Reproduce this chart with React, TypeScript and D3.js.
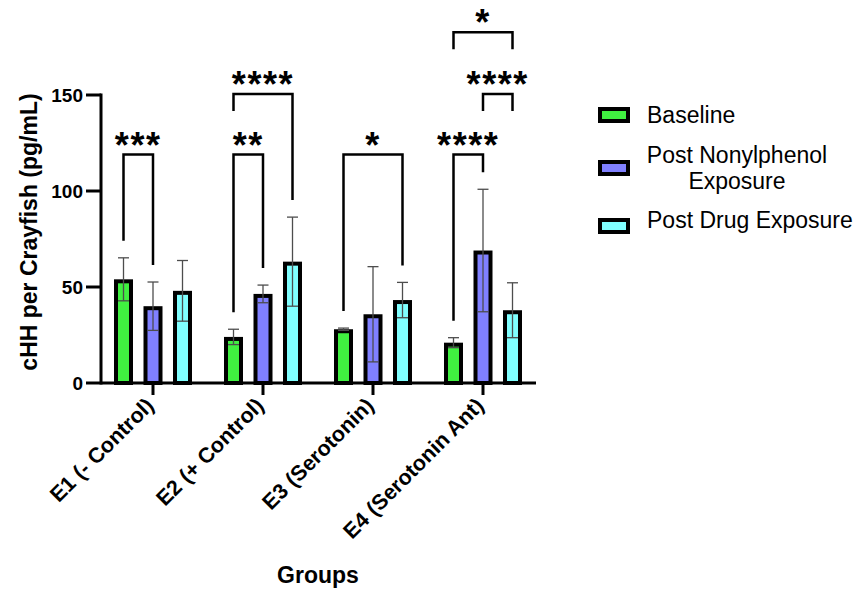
import React, { useEffect, useRef } from 'react';
import * as d3 from 'd3';

const groups = ['E1 (- Control)', 'E2 (+ Control)', 'E3 (Serotonin)', 'E4 (Serotonin Ant)'];
const seriesNames = ['Baseline', 'Post Nonylphenol Exposure', 'Post Drug Exposure'];
const seriesColors = ['#40f040', '#8080ff', '#80ffff'];

const baselineMean = [54, 24, 28, 21];
const baselineSD = [11.2, 4, 0.6, 2.6];
const nonylMean = [40, 46.4, 35.8, 69];
const nonylSD = [12.6, 4.6, 24.8, 31.9];
const drugMean = [48, 63.2, 43.2, 37.9];
const drugSD = [15.8, 23.2, 9.2, 14.3];

const yTicks = [0, 50, 100, 150];

// significance brackets: group, from series, to series, bracket level, stars, short legs
const brackets = [
  { group: 0, from: 0, to: 1, level: 119, label: '***', shortFrom: false, shortTo: false },
  { group: 1, from: 0, to: 1, level: 119, label: '**', shortFrom: false, shortTo: false },
  { group: 1, from: 0, to: 2, level: 150.5, label: '****', shortFrom: true, shortTo: false },
  { group: 2, from: 0, to: 2, level: 119, label: '*', shortFrom: false, shortTo: false },
  { group: 3, from: 0, to: 1, level: 119, label: '****', shortFrom: false, shortTo: false },
  { group: 3, from: 1, to: 2, level: 150.5, label: '****', shortFrom: true, shortTo: true },
  { group: 3, from: 0, to: 2, level: 182.7, label: '*', shortFrom: true, shortTo: true },
];

const FONT = '"Liberation Sans", Arial, sans-serif';

export default function App() {
  const ref = useRef<SVGSVGElement>(null);

  useEffect(() => {
    if (!ref.current) return;
    const svg = d3.select(ref.current);
    svg.selectAll('*').remove();

    const means = [baselineMean, nonylMean, drugMean];
    const sds = [baselineSD, nonylSD, drugSD];

    const y = d3.scaleLinear().domain([0, 150]).range([383, 95]);
    const x0 = d3.scaleBand().domain(groups).range([98, 538]);
    const x1 = d3.scalePoint().domain(seriesNames).range([25.5, 84.5]);
    const barW = 19;

    const cx = (g: number, s: number) => (x0(groups[g]) || 0) + (x1(seriesNames[s]) || 0);
    const errTop = (g: number, s: number) => means[s][g] + sds[s][g];

    // Bars
    seriesNames.forEach((name, s) => {
      svg.append('g')
        .selectAll('rect')
        .data(groups)
        .enter().append('rect')
        .attr('x', (d, g) => cx(g, s) - barW / 2 + 2)
        .attr('y', (d, g) => y(means[s][g]) + 2)
        .attr('width', barW - 4)
        .attr('height', (d, g) => y(0) - y(means[s][g]) - 2)
        .attr('fill', seriesColors[s])
        .attr('stroke', '#000')
        .attr('stroke-width', 4);
    });

    // Error bars
    const eb = svg.append('g').attr('stroke', '#4d4d4d').attr('stroke-width', 1.3);
    seriesNames.forEach((name, s) => {
      groups.forEach((grp, g) => {
        const x = cx(g, s);
        const top = y(means[s][g] + sds[s][g]);
        const bot = y(means[s][g] - sds[s][g]);
        eb.append('line').attr('x1', x).attr('x2', x).attr('y1', top).attr('y2', bot);
        eb.append('line').attr('x1', x - 5.5).attr('x2', x + 5.5).attr('y1', top).attr('y2', top);
        eb.append('line').attr('x1', x - 5.5).attr('x2', x + 5.5).attr('y1', bot).attr('y2', bot);
      });
    });

    // Axes
    const axisG = svg.append('g').attr('stroke', '#000').attr('stroke-width', 3);
    axisG.append('line').attr('x1', 101).attr('x2', 101).attr('y1', y(150) - 1.5).attr('y2', y(0) + 1.5);
    axisG.append('line').attr('x1', 101).attr('x2', 536).attr('y1', y(0)).attr('y2', y(0));
    yTicks.forEach(t => {
      axisG.append('line').attr('x1', 86).attr('x2', 101).attr('y1', y(t)).attr('y2', y(t));
    });
    groups.forEach(grp => {
      const x = (x0(grp) || 0) + x0.bandwidth() / 2;
      axisG.append('line').attr('x1', x).attr('x2', x).attr('y1', y(0)).attr('y2', y(0) + 12);
    });

    svg.append('g')
      .selectAll('text')
      .data(yTicks)
      .enter().append('text')
      .attr('x', 83)
      .attr('y', d => y(d))
      .attr('dy', '0.36em')
      .attr('text-anchor', 'end')
      .attr('font-family', FONT)
      .attr('font-weight', 'bold')
      .attr('font-size', '19px')
      .text(d => d);

    svg.append('g')
      .selectAll('text')
      .data(groups)
      .enter().append('text')
      .attr('transform', d => `translate(${(x0(d) || 0) + x0.bandwidth() / 2 + 2},407) rotate(-45)`)
      .attr('text-anchor', 'end')
      .attr('font-family', FONT)
      .attr('font-weight', 'bold')
      .attr('font-size', '21.5px')
      .text(d => d);

    svg.append('text')
      .attr('transform', 'translate(37,232) rotate(-90)')
      .attr('text-anchor', 'middle')
      .attr('font-family', FONT)
      .attr('font-weight', 'bold')
      .attr('font-size', '23px')
      .text('cHH per Crayfish (pg/mL)');

    svg.append('text')
      .attr('x', 318)
      .attr('y', 583)
      .attr('text-anchor', 'middle')
      .attr('font-family', FONT)
      .attr('font-weight', 'bold')
      .attr('font-size', '23px')
      .text('Groups');

    // Significance brackets
    const bg = svg.append('g');
    brackets.forEach(b => {
      const xa = cx(b.group, b.from);
      const xb = cx(b.group, b.to);
      const yl = y(b.level);
      const ya = b.shortFrom ? yl + 17 : y(errTop(b.group, b.from)) - 17;
      const yb = b.shortTo ? yl + 17 : y(errTop(b.group, b.to)) - 17;
      bg.append('path')
        .attr('d', `M${xa},${ya}V${yl}H${xb}V${yb}`)
        .attr('fill', 'none')
        .attr('stroke', '#000')
        .attr('stroke-width', 2.5);
      bg.append('text')
        .attr('x', (xa + xb) / 2)
        .attr('y', yl + 3)
        .attr('text-anchor', 'middle')
        .attr('font-family', FONT)
        .attr('font-weight', 'bold')
        .attr('font-size', '36px')
        .attr('letter-spacing', '1.6px')
        .text(b.label);
    });

    // Legend
    const legendBoxY = [109, 162, 220];
    const lg = svg.append('g');
    seriesNames.forEach((name, s) => {
      lg.append('rect')
        .attr('x', 600)
        .attr('y', legendBoxY[s])
        .attr('width', 28)
        .attr('height', 12)
        .attr('fill', seriesColors[s])
        .attr('stroke', '#000')
        .attr('stroke-width', 4);
    });
    const legText = (x: number, yy: number, t: string, anchor: string) =>
      lg.append('text')
        .attr('x', x)
        .attr('y', yy)
        .attr('text-anchor', anchor)
        .attr('font-family', FONT)
        .attr('font-size', '23px')
        .text(t);
    legText(647, 123, 'Baseline', 'start');
    legText(737, 163, 'Post Nonylphenol', 'middle');
    legText(737, 189, 'Exposure', 'middle');
    legText(647, 228, 'Post Drug Exposure', 'start');
  }, []);

  return (
    <svg
      ref={ref}
      width={860}
      height={591}
      style={{ position: 'absolute', left: 0, top: 0, background: '#fff' }}
    />
  );
}
